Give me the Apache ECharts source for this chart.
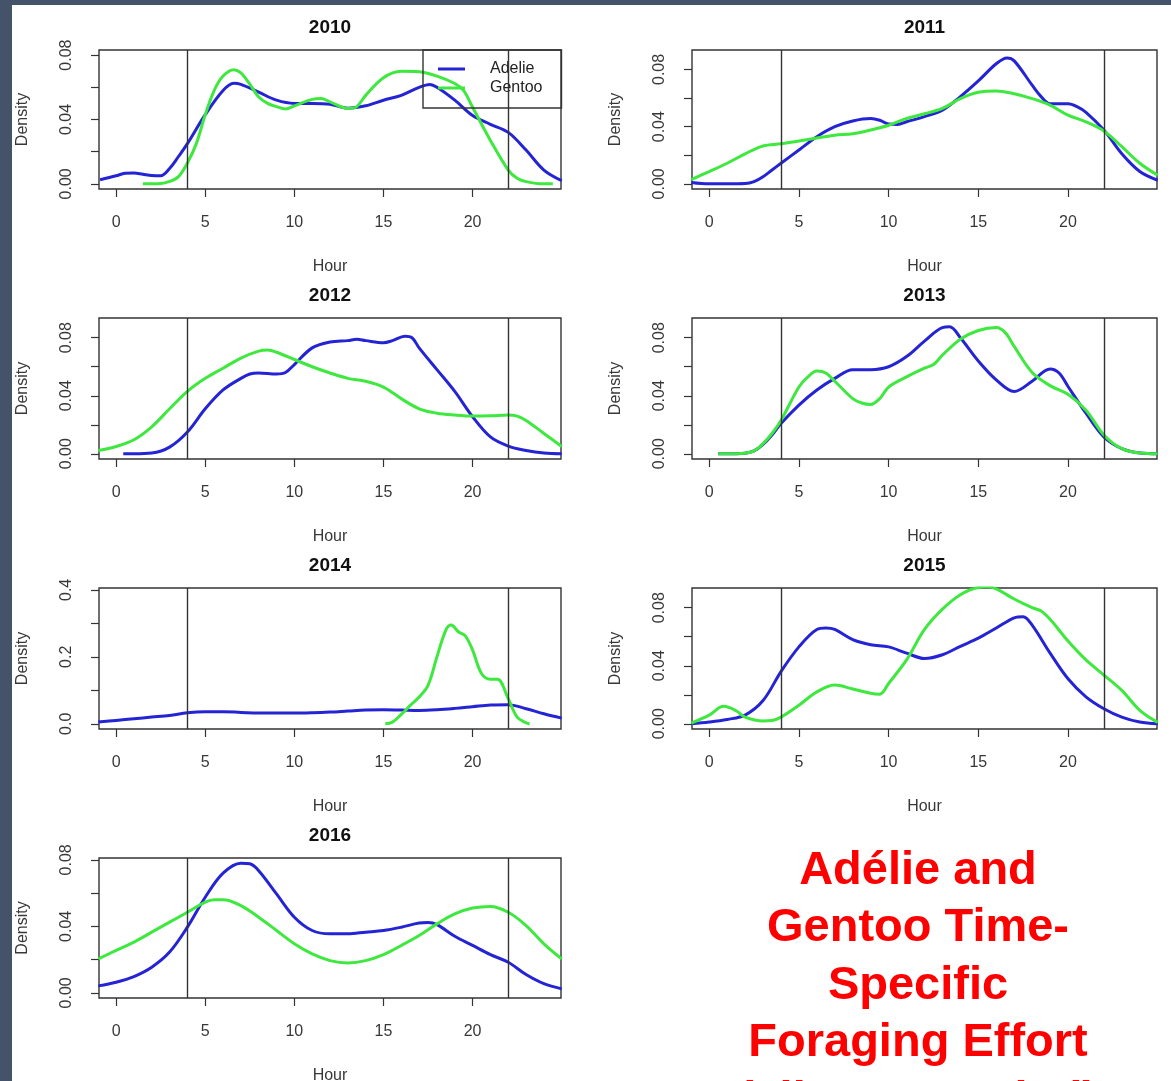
<!DOCTYPE html>
<html>
<head>
<meta charset="utf-8">
<script src="https://cdn.jsdelivr.net/npm/echarts@6/dist/echarts.min.js"></script>
<style>
html,body{margin:0;padding:0;background:#ffffff;}
#c{width:1171px;height:1081px;}
</style>
</head>
<body>
<div id="c"></div>
<script>
// ---------- data ----------
const years = ['2010', '2011', '2012', '2013', '2014', '2015', '2016'];
const seriesNames = ['Adelie', 'Gentoo'];
const hourTicks = [0, 5, 10, 15, 20];
const densityTicks = [0, 0.02, 0.04, 0.06, 0.08];
const densityLabels = [0, 0.04, 0.08];
const densityTicks2014 = [0, 0.1, 0.2, 0.3, 0.4];
const densityLabels2014 = [0, 0.2, 0.4];
const dayLimits = [4, 22];
const titleLines = ['Adélie and', 'Gentoo Time-', 'Specific', 'Foraging Effort', '(all tags pooled)'];

const adelie2010 = [[-0.9,0.0025],[0,0.005],[0.5,0.0066],[1,0.0068],[1.5,0.006],[2,0.0052],[2.5,0.005],[3,0.0095],[3.5,0.017],[4,0.025],[5,0.043],[6,0.058],[6.6,0.0625],[7,0.0618],[8,0.057],[9,0.052],[10,0.05],[11,0.05],[12,0.0495],[13,0.047],[14,0.0485],[15,0.052],[16,0.055],[17,0.06],[17.6,0.0618],[18,0.06],[19,0.052],[20,0.0425],[21,0.037],[22,0.032],[23,0.021],[24,0.0086],[25,0.002]];
const gentoo2010 = [[1.5,0],[2.5,0.0002],[3,0.0015],[3.5,0.0045],[4,0.013],[4.5,0.025],[5,0.043],[5.5,0.058],[6,0.067],[6.6,0.071],[7,0.069],[7.5,0.062],[8,0.054],[8.5,0.05],[9,0.048],[9.5,0.0466],[10,0.0485],[11,0.0525],[11.5,0.053],[12,0.051],[13,0.0468],[13.5,0.048],[14,0.055],[15,0.066],[16,0.07],[17,0.0697],[18,0.067],[19,0.0624],[19.5,0.058],[20,0.0476],[21,0.027],[22,0.0086],[22.5,0.0035],[23,0.0014],[24,0],[24.5,0]];

const adelie2011 = [[-1,0.001],[0,0],[1,0],[2,0.0002],[2.5,0.0016],[3,0.005],[3.5,0.0097],[4,0.0144],[5,0.0237],[6,0.033],[7,0.04],[8,0.044],[9,0.0457],[9.5,0.0445],[10,0.0418],[10.5,0.0415],[11,0.0434],[12,0.047],[13,0.0515],[14,0.061],[15,0.072],[16,0.084],[16.6,0.088],[17,0.086],[18,0.069],[18.5,0.061],[19,0.056],[20,0.056],[20.5,0.054],[21,0.05],[22,0.0376],[23,0.021],[24,0.0086],[25,0.0025]];
const gentoo2011 = [[-1,0.003],[0,0.0086],[1,0.0144],[2,0.021],[3,0.0265],[4,0.028],[5,0.03],[6,0.032],[7,0.034],[8,0.035],[9,0.0376],[10,0.041],[11,0.0457],[12,0.049],[13,0.0527],[14,0.0596],[15,0.064],[16,0.065],[17,0.063],[18,0.0596],[19,0.055],[20,0.048],[21,0.0434],[22,0.037],[23,0.026],[24,0.0144],[25,0.006]];

const adelie2012 = [[0.4,0],[1,0],[2,0.0005],[3,0.0046],[4,0.015],[5,0.031],[6,0.044],[7,0.052],[7.5,0.055],[8,0.0557],[9,0.055],[9.5,0.056],[10,0.0615],[11,0.073],[12,0.077],[13,0.078],[13.5,0.0789],[14,0.078],[15,0.0766],[15.5,0.078],[16.2,0.081],[16.6,0.08],[17,0.073],[18,0.058],[19,0.043],[20,0.0255],[21,0.0116],[22,0.0053],[23,0.0023],[24,0.0005],[25,0]];
const gentoo2012 = [[-1,0.0022],[0,0.005],[1,0.0097],[2,0.0186],[3,0.031],[4,0.043],[5,0.052],[6,0.059],[7,0.066],[8,0.0708],[8.5,0.0715],[9,0.07],[10,0.065],[11,0.06],[12,0.0557],[13,0.052],[14,0.05],[15,0.046],[16,0.038],[17,0.031],[18,0.028],[19,0.0267],[20,0.026],[21,0.0262],[22,0.0267],[22.5,0.026],[23,0.023],[24,0.014],[25,0.005]];

const adelie2013 = [[0.5,0],[1.5,0],[2,0.0003],[2.5,0.002],[3,0.0065],[3.5,0.013],[4,0.0209],[5,0.0336],[6,0.044],[7,0.052],[8,0.058],[9,0.058],[10,0.06],[11,0.067],[12,0.0777],[13,0.087],[13.4,0.0875],[14,0.08],[15,0.064],[16,0.051],[17,0.043],[18,0.05],[19,0.0585],[19.5,0.0557],[20,0.0464],[21,0.028],[22,0.0116],[23,0.0035],[24,0.0005],[25,0]];
const gentoo2013 = [[0.5,0],[1.5,0],[2,0.0003],[2.5,0.002],[3,0.007],[3.5,0.014],[4,0.023],[5,0.046],[5.5,0.053],[6,0.057],[6.5,0.0557],[7,0.05],[8,0.038],[8.5,0.035],[9,0.034],[9.5,0.038],[10,0.046],[11,0.053],[12,0.059],[12.5,0.0615],[13,0.068],[14,0.079],[15,0.085],[16,0.087],[16.5,0.0835],[17,0.074],[18,0.056],[19,0.047],[20,0.041],[21,0.03],[22,0.013],[23,0.0035],[24,0.0005],[25,0]];

const adelie2014 = [[-1,0.005],[0,0.01],[1,0.015],[2,0.02],[3,0.025],[4,0.033],[5,0.036],[6,0.036],[7,0.034],[8,0.032],[9,0.032],[10,0.032],[11,0.033],[12,0.035],[13,0.038],[14,0.041],[15,0.042],[16,0.041],[17,0.04],[18,0.042],[19,0.046],[20,0.051],[21,0.056],[22,0.057],[23,0.045],[24,0.03],[25,0.017]];
const gentoo2014 = [[15.1,0],[15.5,0.005],[16,0.028],[16.5,0.055],[17,0.08],[17.5,0.115],[18,0.2],[18.5,0.28],[18.8,0.295],[19.2,0.275],[19.6,0.262],[20,0.22],[20.5,0.15],[21,0.133],[21.4,0.133],[22,0.075],[22.5,0.02],[23,0.003],[23.2,0]];

const adelie2015 = [[-1,0],[0,0.0012],[1,0.003],[2,0.006],[3,0.016],[4,0.036],[5,0.053],[6,0.065],[6.5,0.066],[7,0.065],[8,0.058],[9,0.0545],[10,0.053],[11,0.0487],[12,0.045],[13,0.0476],[14,0.0534],[15,0.059],[16,0.066],[17,0.073],[17.5,0.0738],[18,0.068],[19,0.0487],[20,0.031],[21,0.0186],[22,0.0104],[23,0.0046],[24,0.0012],[25,0]];
const gentoo2015 = [[-1,0.0005],[0,0.006],[0.8,0.012],[1.5,0.009],[2,0.0046],[3,0.002],[3.5,0.0023],[4,0.0046],[5,0.0128],[6,0.022],[7,0.0267],[8,0.024],[9,0.021],[9.5,0.0204],[10,0.0278],[11,0.044],[12,0.065],[13,0.079],[14,0.089],[15,0.094],[15.5,0.0944],[16,0.093],[17,0.086],[18,0.08],[18.5,0.0777],[19,0.072],[20,0.057],[21,0.044],[22,0.0336],[23,0.023],[24,0.0093],[25,0.001]];

const adelie2016 = [[-1,0.0042],[0,0.0064],[1,0.0098],[2,0.0154],[3,0.0245],[4,0.0395],[5,0.0575],[6,0.072],[7,0.078],[7.5,0.0776],[8,0.0735],[9,0.0595],[10,0.0455],[11,0.0375],[12,0.0355],[13,0.0355],[14,0.0365],[15,0.0375],[16,0.0395],[17,0.042],[17.5,0.0423],[18,0.041],[19,0.034],[20,0.0285],[21,0.023],[22,0.0184],[23,0.011],[24,0.0055],[25,0.0024]];
const gentoo2016 = [[-1,0.0204],[0,0.0255],[1,0.0305],[2,0.0365],[3,0.0425],[4,0.0485],[5,0.0545],[5.5,0.056],[6,0.056],[7,0.0525],[8,0.0455],[9,0.0375],[10,0.0295],[11,0.0234],[12,0.0194],[13,0.018],[14,0.0194],[15,0.023],[16,0.0285],[17,0.0345],[18,0.0415],[19,0.0475],[20,0.051],[21,0.052],[22,0.0485],[23,0.0405],[24,0.0295],[25,0.0204]];

// ---------- layout / style ----------
const FONT = '"Liberation Sans", Arial, Helvetica, sans-serif';
const BLUE = '#2424d4';
const GREEN = '#3ee83e';
const INK = '#333333';
const COLS = [{left: 99, width: 462}, {left: 692, width: 465}];
const ROWS = [{top: 50, height: 139}, {top: 318, height: 141}, {top: 588, height: 141}, {top: 858, height: 140}];

const panels = [
  {adelie: adelie2010, gentoo: gentoo2010, col: 0, row: 0, yMin: -0.0032, yMax: 0.0832, ticks: densityTicks, labels: densityLabels, digits: 2},
  {adelie: adelie2011, gentoo: gentoo2011, col: 1, row: 0, yMin: -0.0036, yMax: 0.0936, ticks: densityTicks, labels: densityLabels, digits: 2},
  {adelie: adelie2012, gentoo: gentoo2012, col: 0, row: 1, yMin: -0.0036, yMax: 0.0936, ticks: densityTicks, labels: densityLabels, digits: 2},
  {adelie: adelie2013, gentoo: gentoo2013, col: 1, row: 1, yMin: -0.0036, yMax: 0.0936, ticks: densityTicks, labels: densityLabels, digits: 2},
  {adelie: adelie2014, gentoo: gentoo2014, col: 0, row: 2, yMin: -0.0156, yMax: 0.4056, ticks: densityTicks2014, labels: densityLabels2014, digits: 1},
  {adelie: adelie2015, gentoo: gentoo2015, col: 1, row: 2, yMin: -0.0036, yMax: 0.0936, ticks: densityTicks, labels: densityLabels, digits: 2},
  {adelie: adelie2016, gentoo: gentoo2016, col: 0, row: 3, yMin: -0.0031, yMax: 0.0811, ticks: densityTicks, labels: densityLabels, digits: 2}
];

const grid = [], xAxis = [], yAxis = [], series = [], title = [];
const axisText = {fontSize: 16, color: '#383838', fontFamily: FONT};

panels.forEach((p, i) => {
  const c = COLS[p.col], r = ROWS[p.row];
  grid.push({
    left: c.left, top: r.top, width: c.width, height: r.height,
    show: true, borderColor: INK, borderWidth: 1.4, backgroundColor: 'transparent',
    containLabel: false, outerBoundsMode: 'none'
  });
  xAxis.push({
    type: 'value', gridIndex: i, min: -0.96, max: 24.96,
    axisLine: {show: false, onZero: false},
    splitLine: {show: false},
    axisTick: {show: true, inside: false, length: 8, customValues: hourTicks, lineStyle: {color: INK, width: 1.2}},
    axisLabel: {show: true, margin: 26, customValues: hourTicks, ...axisText},
    name: 'Hour', nameLocation: 'middle', nameGap: 70, nameTextStyle: axisText
  });
  yAxis.push({
    type: 'value', gridIndex: i, min: p.yMin, max: p.yMax,
    axisLine: {show: false, onZero: false},
    splitLine: {show: false},
    axisTick: {show: true, inside: false, length: 8, customValues: p.ticks, lineStyle: {color: INK, width: 1.2}},
    axisLabel: {show: true, margin: 24, rotate: 90, customValues: p.labels,
      formatter: v => Number(v).toFixed(p.digits), ...axisText},
    name: 'Density', nameLocation: 'middle', nameGap: 68, nameRotate: 90, nameTextStyle: axisText
  });
  title.push({
    text: years[i], left: c.left + c.width / 2, top: r.top - 31.5, textAlign: 'center', padding: 0,
    textStyle: {fontSize: 19, fontWeight: 'bold', color: '#111', fontFamily: FONT}
  });
  const common = {type: 'line', xAxisIndex: i, yAxisIndex: i, showSymbol: false, symbol: 'none',
    smooth: 0.35, clip: true, animation: false, emphasis: {disabled: true}};
  series.push(Object.assign({}, common, {
    name: seriesNames[0], data: p.adelie, z: 2,
    lineStyle: {width: 3, color: BLUE}, itemStyle: {color: BLUE}
  }));
  series.push(Object.assign({}, common, {
    name: seriesNames[1], data: p.gentoo, z: 3,
    lineStyle: {width: 3, color: GREEN}, itemStyle: {color: GREEN},
    markLine: {
      silent: true, animation: false, symbol: ['none', 'none'], label: {show: false},
      lineStyle: {color: INK, width: 1.4, type: 'solid'},
      emphasis: {disabled: true},
      data: dayLimits.map(h => ({xAxis: h}))
    }
  }));
});

title.push({
  text: titleLines.join('\n'), left: 918, top: 842, textAlign: 'center', padding: 0,
  textStyle: {fontSize: 47, fontWeight: 'bold', color: '#ff0000', lineHeight: 57.5, fontFamily: FONT}
});

const option = {
  backgroundColor: '#ffffff',
  animation: false,
  title: title,
  grid: grid,
  xAxis: xAxis,
  yAxis: yAxis,
  series: series,
  legend: {
    show: true, data: seriesNames, orient: 'vertical', left: 423, top: 50,
    padding: [9.5, 19, 10.5, 15], itemGap: 0, itemWidth: 27, itemHeight: 3, icon: 'rect',
    borderColor: INK, borderWidth: 1.4, backgroundColor: 'transparent', selectedMode: false,
    textStyle: {fontSize: 16, color: '#222', fontFamily: FONT, lineHeight: 19, padding: [0, 0, 0, 20]}
  },
  graphic: [
    {type: 'rect', left: 0, top: 0, silent: true, shape: {width: 12, height: 1081}, style: {fill: '#44536a'}},
    {type: 'rect', left: 0, top: 0, silent: true, shape: {width: 1171, height: 5}, style: {fill: '#44536a'}}
  ]
};

const chart = echarts.init(document.getElementById('c'), null, {renderer: 'canvas'});
chart.setOption(option);
</script>
</body>
</html>
